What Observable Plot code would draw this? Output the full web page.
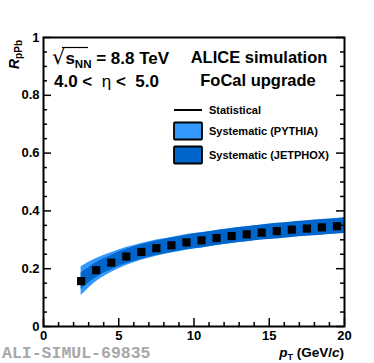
<!DOCTYPE html>
<html><head><meta charset="utf-8">
<script src="https://cdn.jsdelivr.net/npm/d3@7"></script>
<script src="https://cdn.jsdelivr.net/npm/@observablehq/plot@0.6"></script>
<style>html,body{margin:0;padding:0;background:#fff;} svg{display:block;}</style>
</head><body><div id="chart"></div>
<script>
// ---- data ----
const pt = [2.5,3.5,4.5,5.5,6.5,7.5,8.5,9.5,10.5,11.5,12.5,13.5,14.5,15.5,16.5,17.5,18.5,19.5];
const rpPb = [0.157,0.195,0.221,0.242,0.258,0.271,0.281,0.291,0.298,0.306,0.313,0.319,0.325,0.330,0.335,0.339,0.343,0.347];
const bandPt = [2.5,3.5,4.5,5.5,6.5,7.5,8.5,9.5,10.5,11.5,12.5,13.5,14.5,15.5,16.5,17.5,18.5,19.5,20];
const bandCenter = [0.157,0.195,0.221,0.242,0.258,0.271,0.281,0.291,0.298,0.306,0.313,0.319,0.325,0.330,0.335,0.339,0.343,0.347,0.349];
const pythiaErr = [0.050,0.040,0.034,0.031,0.029,0.028,0.027,0.027,0.026,0.026,0.026,0.026,0.025,0.025,0.025,0.025,0.025,0.025,0.025];
const jetphoxErr = [0.028,0.026,0.025,0.025,0.025,0.025,0.025,0.025,0.026,0.026,0.026,0.026,0.026,0.027,0.027,0.027,0.027,0.027,0.027];
const xTickLabels = [0,5,10,15,20];
const yTickLabels = [0,0.2,0.4,0.6,0.8,1];
const legendLabels = ["Statistical","Systematic (PYTHIA)","Systematic (JETPHOX)"];

const points = pt.map((x,i)=>({x, y:rpPb[i]}));
const band = bandPt.map((x,i)=>({x,
  pLo: bandCenter[i]-pythiaErr[i], pHi: bandCenter[i]+pythiaErr[i],
  jLo: bandCenter[i]-jetphoxErr[i], jHi: bandCenter[i]+jetphoxErr[i]}));

const W = 374, H = 363, mL = 43, mR = 30, mT = 37, mB = 37;
const pxX = 20/(W-mL-mR), pxY = 1/(H-mT-mB);
const xMinor = d3.range(0,21,1), yMinor = d3.range(0,1.0001,0.05).map(v=>+v.toFixed(2));
const isMajX = v => v%5===0, isMajY = v => Math.abs(v*5-Math.round(v*5))<1e-6;

const cLight = "#3399ff", cDark = "#0066cc";
const font = "'Liberation Sans', Arial, Helvetica, sans-serif";

const chart = Plot.plot({
  width: W, height: H,
  marginLeft: mL, marginRight: mR, marginTop: mT, marginBottom: mB,
  x: {domain:[0,20]}, y: {domain:[0,1]},
  style: {fontFamily: font, fontSize: "13px", background: "#fff", overflow: "visible"},
  marks: [
    Plot.areaY(band, {x:"x", y1:"pLo", y2:"pHi", fill:cLight, curve:"monotone-x"}),
    Plot.areaY(band, {x:"x", y1:"jLo", y2:"jHi", fill:cDark, curve:"monotone-x"}),
    Plot.dot(points, {x:"x", y:"y", symbol:"square", r:4.6, fill:"#000", stroke:"none"}),
    // inward ticks
    Plot.ruleX(xMinor, {x:d=>d, y1:0, y2:d=>(isMajX(d)?8:4)*pxY, stroke:"#000", strokeWidth:1.5}),
    Plot.ruleY(yMinor, {y:d=>d, x1:0, x2:d=>(isMajY(d)?8:4)*pxX, stroke:"#000", strokeWidth:1.5}),
    Plot.ruleY(yMinor, {y:d=>d, x1:20, x2:d=>20-(isMajY(d)?8:4)*pxX, stroke:"#000", strokeWidth:1.5}),
    Plot.frame({stroke:"#000", strokeWidth:2}),
    Plot.axisX({ticks:xTickLabels, tickSize:0, tickPadding:4, label:null, fontSize:13, fontWeight:"bold", fill:"#000"}),
    Plot.axisY({ticks:yTickLabels, tickSize:0, tickPadding:4, label:null, fontSize:13, fontWeight:"bold", fill:"#000",
      tickFormat: d => (d===0||d===1) ? String(d) : d.toFixed(1)})
  ]
});
document.getElementById("chart").appendChild(chart);

const svg = d3.select(chart);
const g = svg.append("g").attr("font-family", font).attr("fill","#000").attr("text-anchor","start");

// sqrt(s_NN) annotation
const t1 = g.append("text").attr("x",52).attr("y",64).attr("font-size",17).attr("font-weight","bold");
t1.append("tspan").attr("font-family","'DejaVu Sans'").attr("font-weight","normal").attr("font-size",21).text("√");
t1.append("tspan").text("s");
t1.append("tspan").attr("dy",4).attr("font-size",11.5).text("NN");
t1.append("tspan").attr("dy",-4).text(" = 8.8 TeV");
g.append("line").attr("x1",62).attr("x2",88).attr("y1",47.5).attr("y2",47.5).attr("stroke","#000").attr("stroke-width",1.2);

const t2 = g.append("text").attr("x",54).attr("y",87).attr("font-size",17).attr("font-weight","bold");
t2.append("tspan").text("4.0 <  ");
t2.append("tspan").attr("font-weight","normal").text("η");
t2.append("tspan").text(" <  5.0");

g.append("text").attr("x",259).attr("y",63).attr("text-anchor","middle").attr("font-size",16.5).attr("font-weight","bold").text("ALICE simulation");
g.append("text").attr("x",258).attr("y",86).attr("text-anchor","middle").attr("font-size",16.5).attr("font-weight","bold").text("FoCal upgrade");

// legend
g.append("line").attr("x1",174).attr("x2",202).attr("y1",110).attr("y2",110).attr("stroke","#000").attr("stroke-width",2);
g.append("rect").attr("x",174).attr("y",122.5).attr("width",28).attr("height",17).attr("fill",cLight).attr("stroke","#000").attr("stroke-width",1.8).attr("rx",1);
g.append("rect").attr("x",174).attr("y",146.5).attr("width",28).attr("height",17).attr("fill",cDark).attr("stroke","#000").attr("stroke-width",1.8).attr("rx",1);
[110,131,155].forEach((y,i)=>{
  g.append("text").attr("x",209).attr("y",y).attr("dy","0.36em").attr("font-size",11).attr("font-weight","bold").text(legendLabels[i]);
});

// y title R_pPb
const ty = g.append("text").attr("transform","translate(19,40) rotate(-90)").attr("text-anchor","end").attr("font-size",14).attr("font-weight","bold");
ty.append("tspan").attr("font-style","italic").text("R");
ty.append("tspan").attr("dy",3).attr("font-size",10).text("pPb");

// x title p_T (GeV/c)
const tx = g.append("text").attr("x",344).attr("y",357).attr("text-anchor","end").attr("font-size",13.5).attr("font-weight","bold");
tx.append("tspan").attr("font-style","italic").text("p");
tx.append("tspan").attr("dy",3).attr("font-size",9).text("T");
tx.append("tspan").attr("dy",-3).text(" (GeV/");
tx.append("tspan").attr("font-style","italic").text("c");
tx.append("tspan").text(")");

// watermark
g.append("text").attr("x",2).attr("y",358).attr("font-family","'Liberation Mono', 'DejaVu Sans Mono', monospace").attr("font-weight","bold").attr("font-size",16.5).attr("fill","#a8a8a8").text("ALI-SIMUL-69835");
</script>
</body></html>
